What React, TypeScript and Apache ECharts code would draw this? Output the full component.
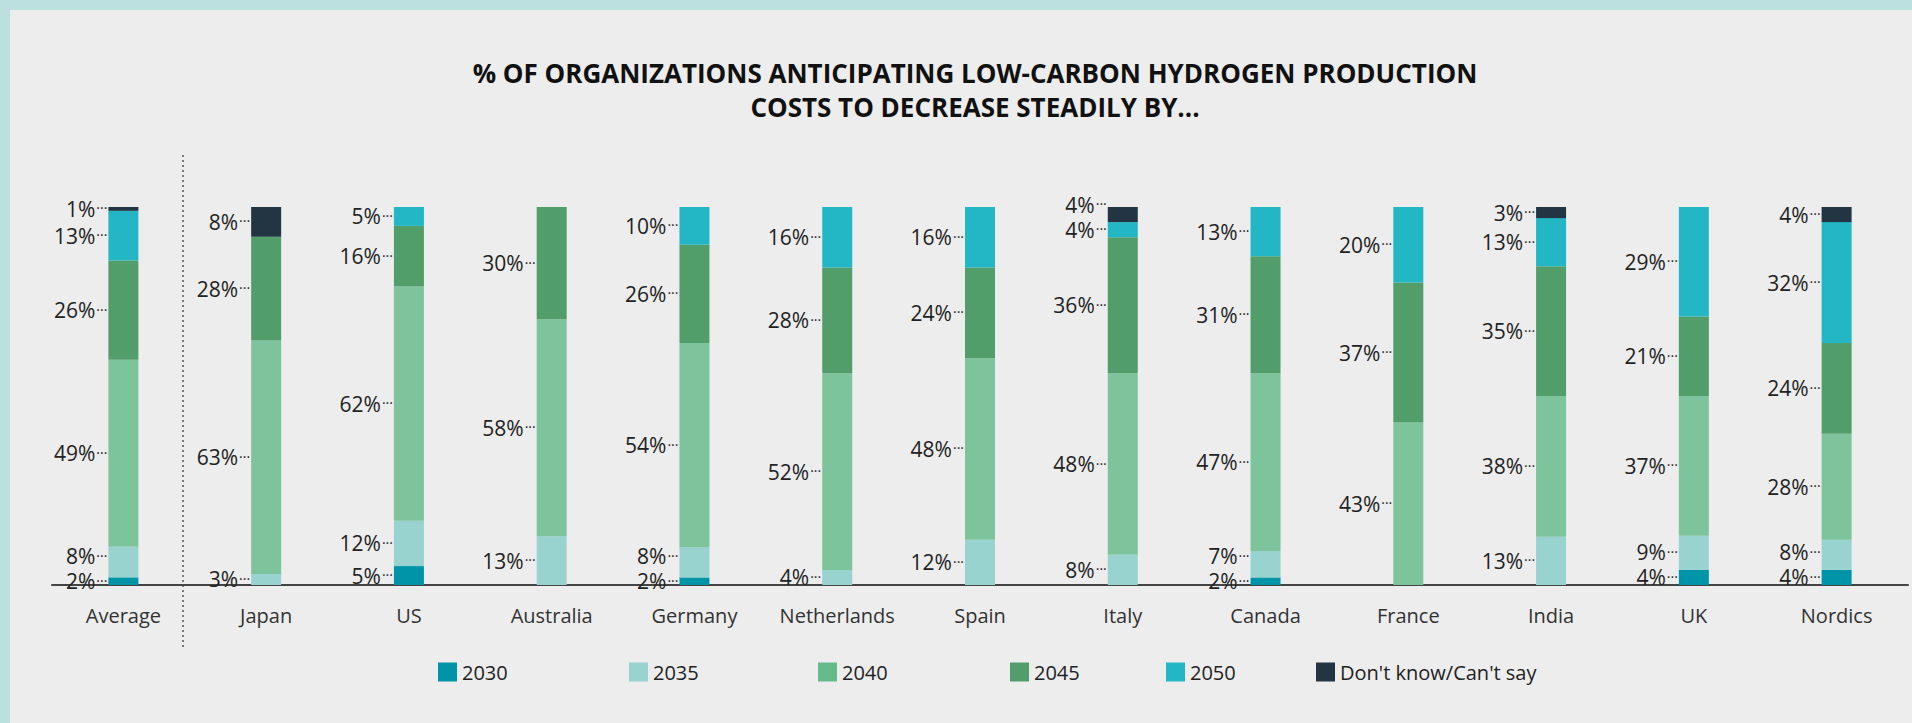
import React, { useEffect, useRef } from "react";
import * as echarts from "echarts";

const categories = ["Average", "Japan", "US", "Australia", "Germany", "Netherlands", "Spain", "Italy", "Canada", "France", "India", "UK", "Nordics"];
const seriesNames = ["2030", "2035", "2040", "2045", "2050", "Don't know/Can't say"];
const v2030 = [2, 0, 5, 0, 2, 0, 0, 0, 2, 0, 0, 4, 4];
const v2035 = [8, 3, 12, 13, 8, 4, 12, 8, 7, 0, 13, 9, 8];
const v2040 = [49, 63, 62, 58, 54, 52, 48, 48, 47, 43, 38, 37, 28];
const v2045 = [26, 28, 16, 30, 26, 28, 24, 36, 31, 37, 35, 21, 24];
const v2050 = [13, 0, 5, 0, 10, 16, 16, 4, 13, 20, 13, 29, 32];
const vDontKnow = [1, 8, 0, 0, 0, 0, 0, 4, 0, 0, 3, 0, 4];

const barColors = ["#0094a9", "#99d3d0", "#7dc39b", "#519e6a", "#23b6c4", "#223543"];
const legendColors = ["#0094a9", "#99d3d0", "#66bb8a", "#519e6a", "#23b6c4", "#223543"];
const legendLefts = [438, 629, 818, 1010, 1166, 1316];

const FONT = "'Open Sans', 'Noto Sans', sans-serif";
const GRID_TOP = 207;
const GRID_BOTTOM_Y = 585;
const MIN_LABEL_GAP = 25;

export default function App() {
  const ref = useRef<HTMLDivElement>(null);

  useEffect(() => {
    if (!ref.current) return;
    const chart = echarts.init(ref.current, undefined, { renderer: "svg" });
    const raw = [v2030, v2035, v2040, v2045, v2050, vDontKnow];
    const totals = categories.map((_, i) => raw.reduce((s, arr) => s + arr[i], 0));
    const shares = raw.map((arr) => arr.map((v, i) => (v / totals[i]) * 100));
    const pxPerPct = (GRID_BOTTOM_Y - GRID_TOP) / 100;

    // label shifts: keep labels of one bar from overlapping (sweep bottom-up)
    const shifts = raw.map((arr) => arr.map(() => 0));
    categories.forEach((_, ci) => {
      let cum = 0;
      let prevY: number | null = null;
      raw.forEach((arr, si) => {
        const s = shares[si][ci];
        if (arr[ci] > 0) {
          const y = GRID_BOTTOM_Y - (cum + s / 2) * pxPerPct;
          let ny = y;
          if (prevY !== null && ny > prevY - MIN_LABEL_GAP) ny = prevY - MIN_LABEL_GAP;
          shifts[si][ci] = ny - y;
          prevY = ny;
        }
        cum += s;
      });
    });

    const series = raw.map((arr, si) => ({
      name: seriesNames[si],
      type: "bar",
      stack: "total",
      barWidth: 30,
      itemStyle: { color: barColors[si] },
      data: shares[si],
      label: {
        show: true,
        position: "left",
        distance: 1,
        formatter: (p: any) => {
          const v = arr[p.dataIndex];
          return v > 0 ? `{v|${v}%}{d|···}` : "";
        },
        rich: {
          v: { fontSize: 21, lineHeight: 22, color: "#222", fontFamily: FONT },
          d: { fontSize: 14, lineHeight: 22, color: "#222", fontFamily: FONT, padding: [0, 0, 2, 1] },
        },
      },
      labelLayout: (p: any) => ({ dy: shifts[si][p.dataIndex] || 0 }),
      emphasis: { disabled: true },
    }));

    const legends = seriesNames.map((n, i) => ({
      data: [{ name: n, itemStyle: { color: legendColors[i] } }],
      left: legendLefts[i],
      top: 662,
      padding: 0,
      itemWidth: 19,
      itemHeight: 19,
      icon: "rect",
      selectedMode: false,
      textStyle: { fontSize: 20, color: "#222", fontFamily: FONT },
    }));

    chart.setOption({
      animation: false,
      backgroundColor: "#ededed",
      title: {
        text: "% OF ORGANIZATIONS ANTICIPATING LOW-CARBON HYDROGEN PRODUCTION\nCOSTS TO DECREASE STEADILY BY...",
        left: 975,
        textAlign: "center",
        top: 56,
        padding: 0,
        textStyle: { fontSize: 26, fontWeight: "bold", color: "#111", fontFamily: FONT, lineHeight: 34 },
      },
      legend: legends,
      grid: { left: 52, right: 4, top: GRID_TOP, bottom: 723 - GRID_BOTTOM_Y, containLabel: false },
      xAxis: {
        type: "category",
        data: categories,
        axisLine: { show: true, lineStyle: { color: "#444", width: 2 } },
        axisTick: { show: false },
        axisLabel: { fontSize: 20, color: "#333", margin: 20, fontFamily: FONT, interval: 0 },
      },
      yAxis: { type: "value", min: 0, max: 100, show: false, splitLine: { show: false } },
      graphic: [
        { type: "rect", shape: { x: 0, y: 0, width: 1912, height: 10 }, style: { fill: "#bce0e0" }, silent: true },
        { type: "rect", shape: { x: 0, y: 0, width: 10, height: 723 }, style: { fill: "#bce0e0" }, silent: true },
        {
          type: "line",
          shape: { x1: 183, y1: 155, x2: 183, y2: 650 },
          style: { stroke: "#555", lineWidth: 1.5, lineDash: [2, 3] },
          silent: true,
        },
      ],
      series,
    });
    return () => chart.dispose();
  }, []);

  return <div ref={ref} style={{ position: "absolute", left: 0, top: 0, width: 1912, height: 723 }} />;
}
